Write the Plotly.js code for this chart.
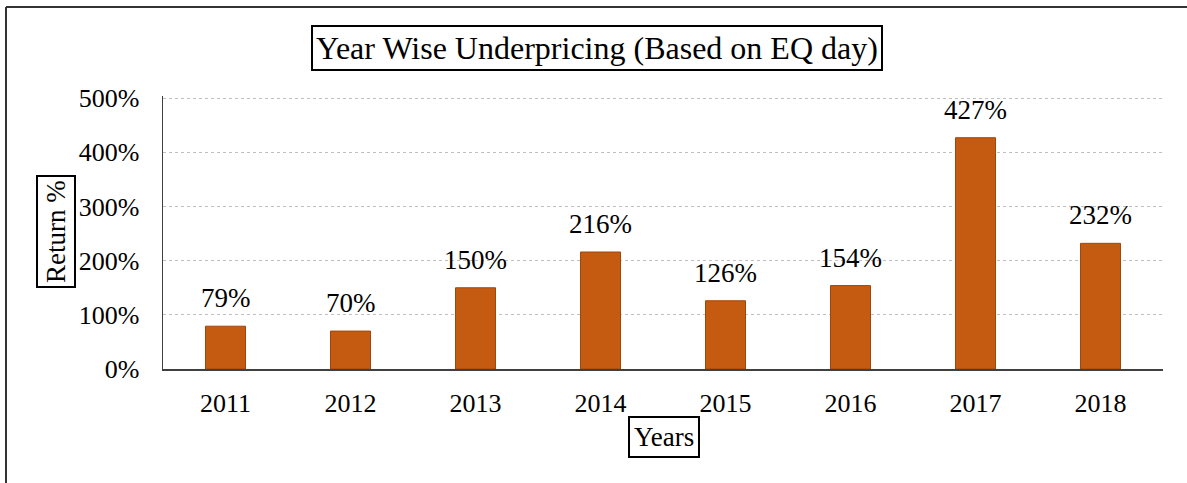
<!DOCTYPE html>
<html>
<head>
<meta charset="utf-8">
<script src="https://cdn.plot.ly/plotly-3.0.1.min.js"></script>
<style>
  html, body { margin: 0; padding: 0; background: #ffffff; }
  #chart { width: 1187px; height: 483px; }
</style>
</head>
<body>
<div id="chart"></div>
<script>
const years = ["2011", "2012", "2013", "2014", "2015", "2016", "2017", "2018"];
const returns = [79, 70, 150, 216, 126, 154, 427, 232];
const labels = ["79%", "70%", "150%", "216%", "126%", "154%", "427%", "232%"];
const yTicks = [0, 100, 200, 300, 400, 500];
const chartTitle = "Year Wise Underpricing (Based on EQ day)";
const xTitle = "Years";
const yTitle = "Return %";

const serif = "Liberation Serif, Times New Roman, serif";

const W = 1187, H = 483;
const L = 163, R = 24, T = 96, B = 114;
const pw = W - L - R, ph = H - T - B;
const px = (x) => (x - L) / pw;
const py = (y) => (H - B - y) / ph;

const trace = {
  type: "bar",
  x: years,
  y: returns,
  marker: { color: "#C55A11", line: { color: "#A3460C", width: 1 } },
  hoverinfo: "skip"
};

const labelAnns = years.map((yr, i) => ({
  x: i, y: returns[i], xref: "x", yref: "y",
  text: labels[i], showarrow: false,
  xanchor: "center", yanchor: "bottom", yshift: 11,
  font: { family: serif, size: 27, color: "#000000" }
}));

const boxAnns = [
  {
    x: px(597), y: py(48), xref: "paper", yref: "paper",
    text: chartTitle, showarrow: false, xanchor: "center", yanchor: "middle",
    font: { family: serif, size: 32, color: "#000000" },
    bordercolor: "#000000", borderwidth: 2, borderpad: 3, bgcolor: "#ffffff"
  },
  {
    x: px(56), y: py(232), xref: "paper", yref: "paper",
    text: yTitle, showarrow: false, xanchor: "center", yanchor: "middle",
    textangle: -90,
    font: { family: serif, size: 27, color: "#000000" },
    bordercolor: "#000000", borderwidth: 2, borderpad: 3, bgcolor: "#ffffff"
  },
  {
    x: px(664), y: py(437), xref: "paper", yref: "paper",
    text: xTitle, showarrow: false, xanchor: "center", yanchor: "middle",
    font: { family: serif, size: 27, color: "#000000" },
    bordercolor: "#000000", borderwidth: 2, borderpad: 4, bgcolor: "#ffffff"
  }
];

const layout = {
  width: W, height: H,
  margin: { l: L, r: R, t: T, b: B, pad: 0 },
  paper_bgcolor: "#ffffff",
  plot_bgcolor: "#ffffff",
  showlegend: false,
  bargap: 0.68,
  xaxis: {
    type: "category",
    range: [-0.5, years.length - 0.5],
    showline: true, linecolor: "#404040", linewidth: 1.5,
    showgrid: false, ticks: "", ticklabelstandoff: 10,
    tickfont: { family: serif, size: 26, color: "#000000" },
    fixedrange: true
  },
  yaxis: {
    range: [0, 504],
    tickvals: yTicks,
    ticktext: yTicks.map(v => v + "%"),
    showline: true, linecolor: "#404040", linewidth: 1.5,
    showgrid: true, gridcolor: "#bfbfbf", griddash: "dot", gridwidth: 1.2,
    zeroline: false, ticks: "", ticklabelstandoff: 17,
    tickfont: { family: serif, size: 26, color: "#000000" },
    fixedrange: true
  },
  annotations: labelAnns.concat(boxAnns),
  shapes: [
    { type: "line", xref: "paper", yref: "paper", x0: px(6), x1: px(6), y0: py(483), y1: py(7),
      line: { color: "#333333", width: 2 } },
    { type: "line", xref: "paper", yref: "paper", x0: px(6), x1: px(1187), y0: py(7), y1: py(7),
      line: { color: "#333333", width: 2 } }
  ]
};

Plotly.newPlot("chart", [trace], layout, { displayModeBar: false, staticPlot: true });
</script>
</body>
</html>
